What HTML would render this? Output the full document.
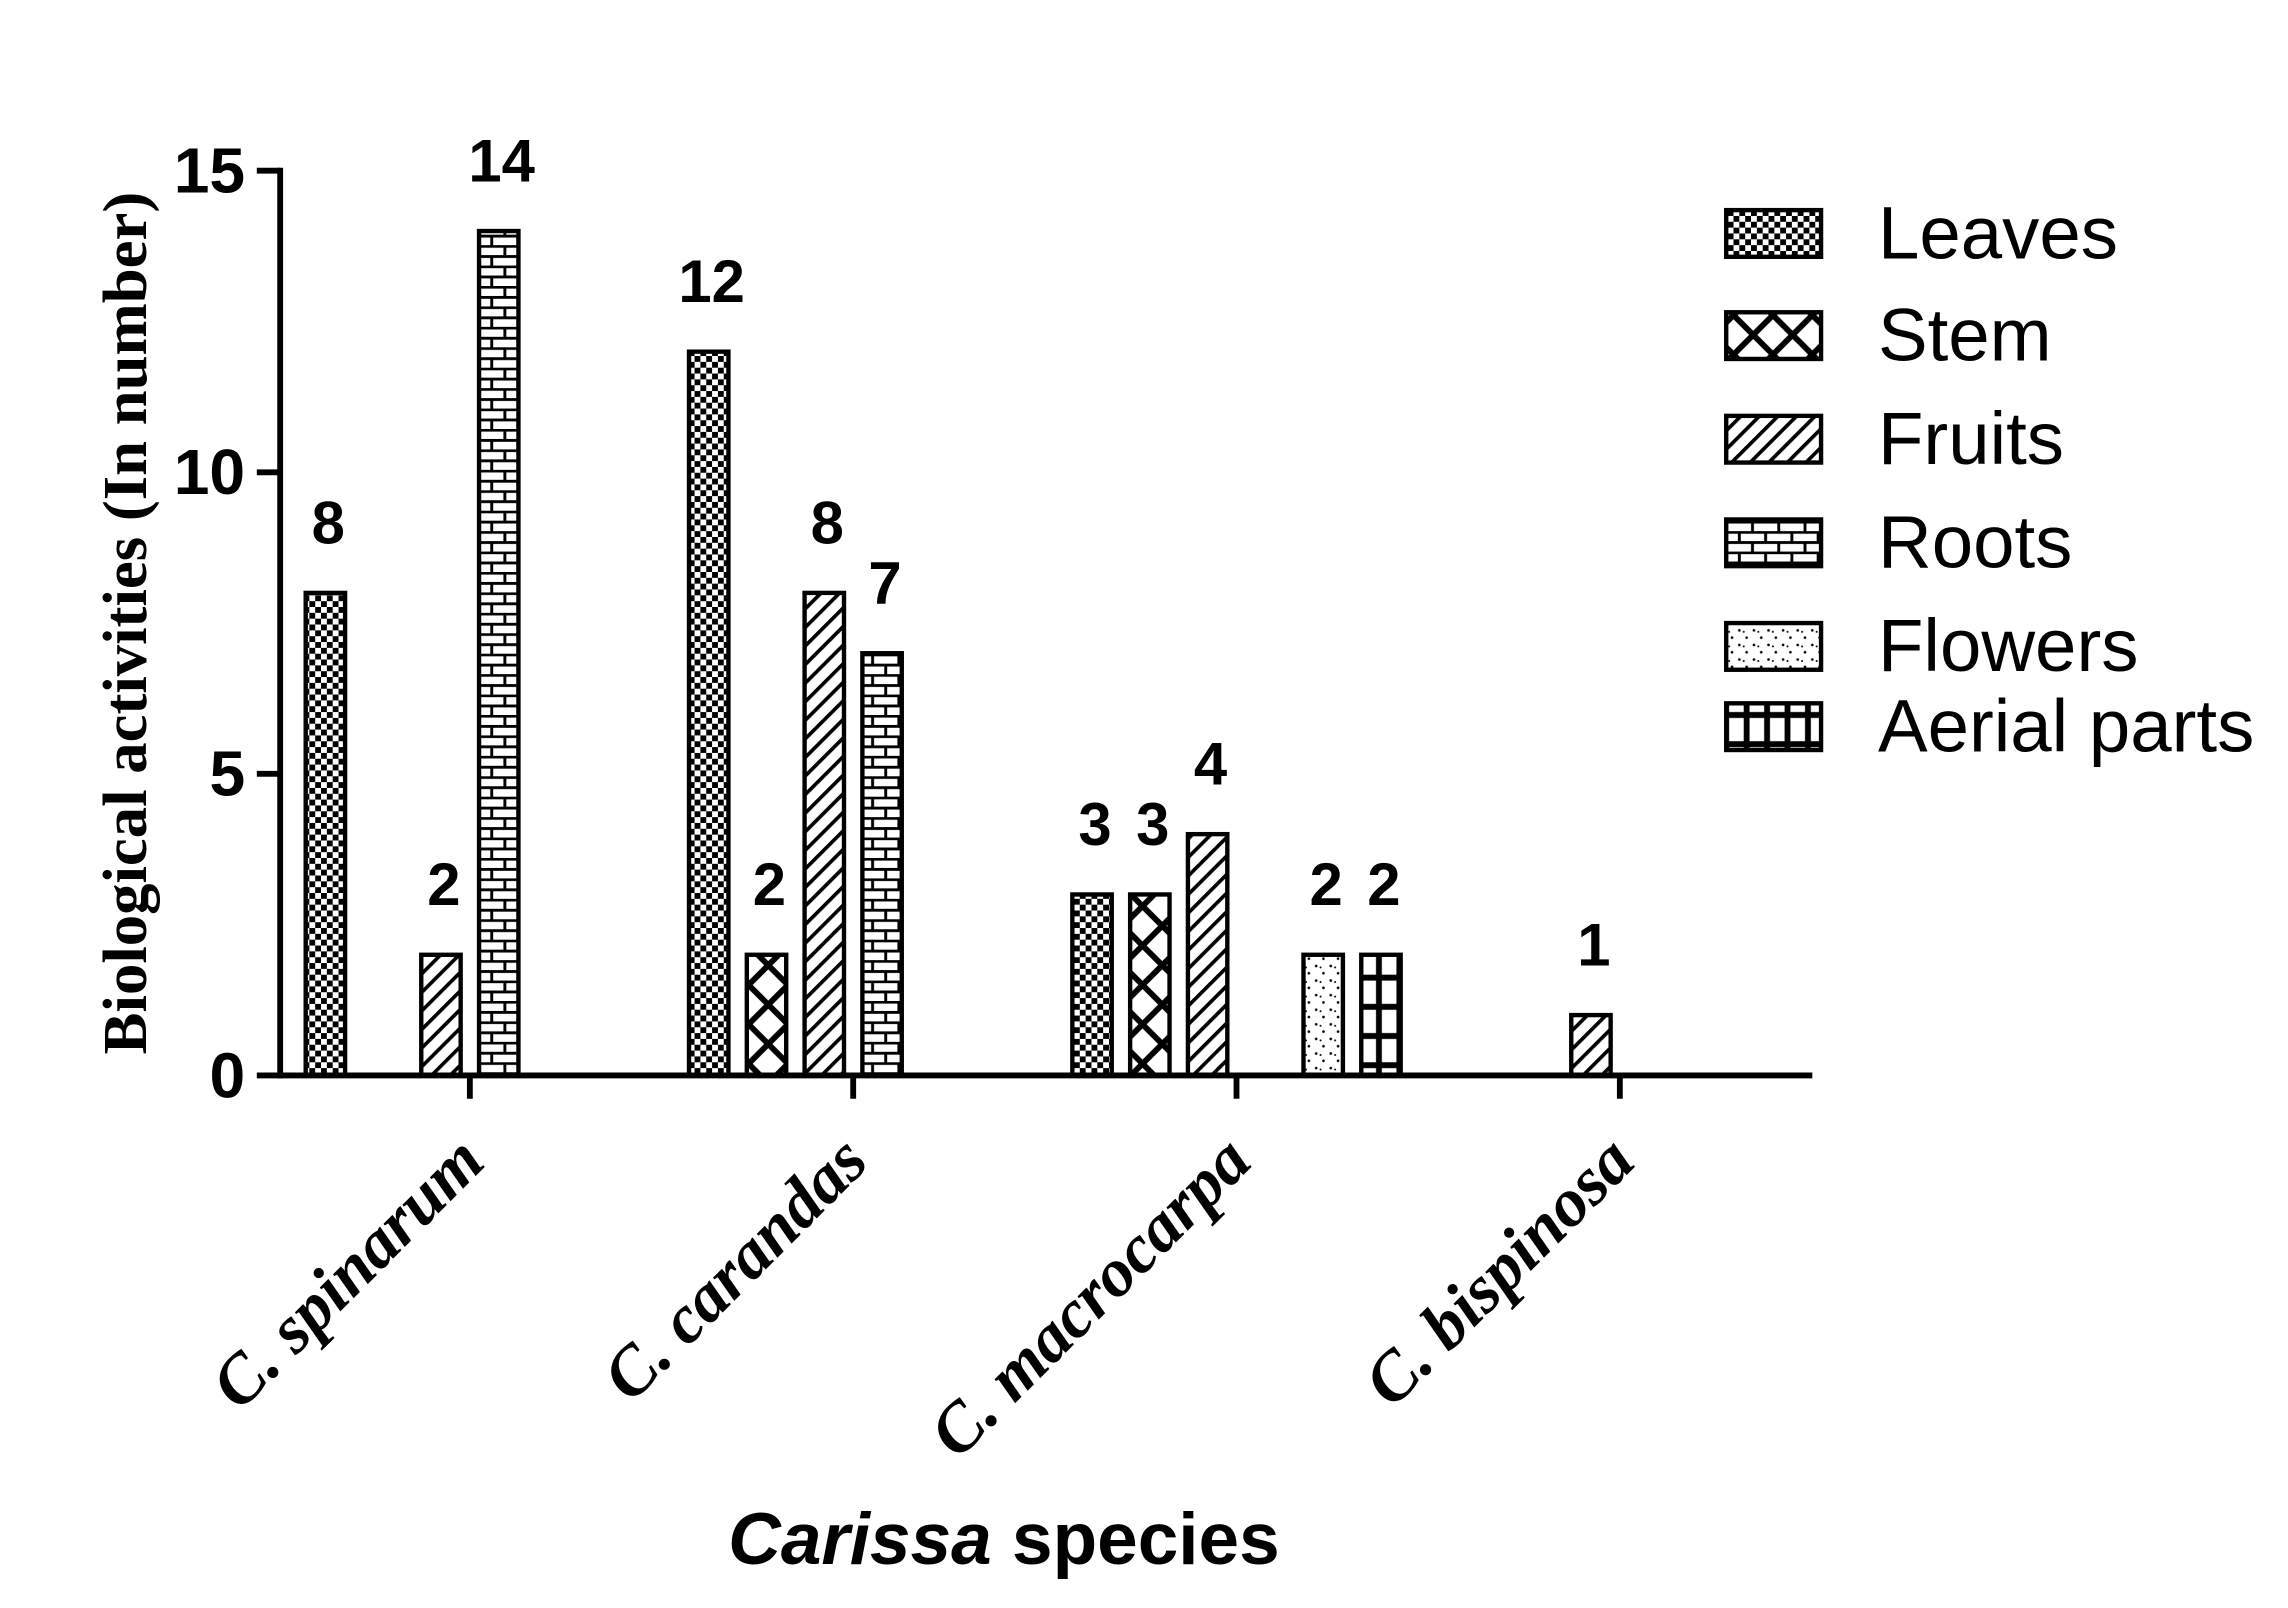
<!DOCTYPE html>
<html><head><meta charset="utf-8"><style>
html,body{margin:0;padding:0;background:#fff;}
svg{display:block;}
</style></head><body>
<svg id="chart" width="2288" height="1608" viewBox="0 0 1568 1102" preserveAspectRatio="none" xmlns="http://www.w3.org/2000/svg">
<defs>
<pattern id="p-leaves" patternUnits="userSpaceOnUse" width="8" height="8"><rect width="8" height="8" fill="#fff"/><rect width="4" height="4" fill="#000"/><rect x="4" y="4" width="4" height="4" fill="#000"/></pattern>
<pattern id="p-stem" patternUnits="userSpaceOnUse" width="27" height="27"><rect width="27" height="27" fill="#fff"/><path d="M0 0L27 27M27 0L0 27" stroke="#000" stroke-width="4"/></pattern>
<pattern id="p-fruits" patternUnits="userSpaceOnUse" width="9" height="9" patternTransform="rotate(45)"><rect width="9" height="9" fill="#fff"/><rect width="2.5" height="9" fill="#000"/></pattern>
<pattern id="p-roots" patternUnits="userSpaceOnUse" width="18" height="14"><rect width="18" height="14" fill="#fff"/><path d="M0 0.8H18M0 7.8H18M4 0V7M13 7V14" stroke="#000" stroke-width="2"/></pattern>
<pattern id="p-flowers" patternUnits="userSpaceOnUse" width="10" height="10"><rect width="10" height="10" fill="#fff"/><circle cx="2" cy="2" r="0.9" fill="#000"/><circle cx="7" cy="7" r="0.9" fill="#000"/><circle cx="5" cy="3" r="0.7" fill="#000"/></pattern>
<pattern id="p-aerial" patternUnits="userSpaceOnUse" width="14" height="20"><rect width="14" height="20" fill="#fff"/><path d="M0 10H14M7 0V20" stroke="#000" stroke-width="4"/></pattern>
</defs>
<g id="plot"></g>
</svg>
<script>
const categories = ["C. spinarum","C. carandas","C. macrocarpa","C. bispinosa"];
const seriesNames = ["Leaves","Stem","Fruits","Roots","Flowers","Aerial parts"];
const leaves  = [8,12,3,0];
const stem    = [0,2,3,0];
const fruits  = [2,8,4,1];
const roots   = [14,7,0,0];
const flowers = [0,0,2,0];
const aerial  = [0,0,2,0];
const yTicks = [0,5,10,15];

const series=[leaves,stem,fruits,roots,flowers,aerial];
const pats=["p-leaves","p-stem","p-fruits","p-roots","p-flowers","p-aerial"];
const NS="http://www.w3.org/2000/svg";
const g=document.getElementById('plot');
const X0=192,XEND=1242,Y0=737,Y15=117;
function yS(v){return Y0-(Y0-Y15)*v/15;}
function groupCenter(i){return 322+i*262.7;}
const pitch=39.6,bw=27;
function mk(tag,attrs,parent){const e=document.createElementNS(NS,tag);for(const k in attrs)e.setAttribute(k,attrs[k]);(parent||g).appendChild(e);return e;}

categories.forEach((c,ci)=>{
  series.forEach((s,si)=>{
    const v=s[ci]; if(!v) return;
    const x=groupCenter(ci)+(si-2.5)*pitch-bw/2;
    const r=mk('rect',{x:x,y:yS(v),width:bw,height:Y0-yS(v),fill:'url(#'+pats[si]+')',stroke:'#000','stroke-width':3});
    
    
    const t=mk('text',{x:x+bw/2+2,y:yS(v)-34,'text-anchor':'middle','font-family':'Liberation Sans, sans-serif','font-weight':'bold','font-size':41});
    t.textContent=v;
    
    
  });
});
const ya=mk('line',{x1:X0,y1:Y0+2,x2:X0,y2:Y15-2,stroke:'#000','stroke-width':4});


const xa=mk('line',{x1:X0-2,y1:Y0,x2:XEND,y2:Y0,stroke:'#000','stroke-width':4});


yTicks.forEach(v=>{
  mk('line',{x1:X0-16,y1:yS(v),x2:X0,y2:yS(v),stroke:'#000','stroke-width':4});
  const t=mk('text',{x:X0-24,y:yS(v)+15,'text-anchor':'end','font-family':'Liberation Sans, sans-serif','font-weight':'bold','font-size':44});
  t.textContent=v;
  
  
});
categories.forEach((c,ci)=>{
  const x=groupCenter(ci);
  mk('line',{x1:x,y1:Y0,x2:x,y2:Y0+16,stroke:'#000','stroke-width':4});
  const t=mk('text',{x:0,y:0,transform:'translate('+(x+12)+',798) rotate(-45)','text-anchor':'end','font-family':'Liberation Serif, serif','font-weight':'bold','font-style':'italic','font-size':47});
  t.textContent=c;
  
  
});
const yt=mk('text',{x:0,y:0,transform:'translate(100,427) rotate(-90)','text-anchor':'middle','font-family':'Liberation Serif, serif','font-weight':'bold','font-size':43});
yt.textContent='Biological activities (In number)';


const xt=mk('text',{x:688,y:1072,'text-anchor':'middle','font-family':'Liberation Sans, sans-serif','font-weight':'bold','font-size':50});
xt.innerHTML='<tspan font-style="italic">Carissa</tspan> species';


const ly=[160,230,301,372,443,498];
seriesNames.forEach((n,i)=>{
  const r=mk('rect',{x:1183,y:ly[i]-16,width:65,height:32,fill:'url(#'+pats[i]+')',stroke:'#000','stroke-width':3});
  
  
  const t=mk('text',{x:1287,y:ly[i]+17,'font-family':'Liberation Sans, sans-serif','font-size':51});
  t.textContent=n;
  
  
});
</script>
</body></html>
